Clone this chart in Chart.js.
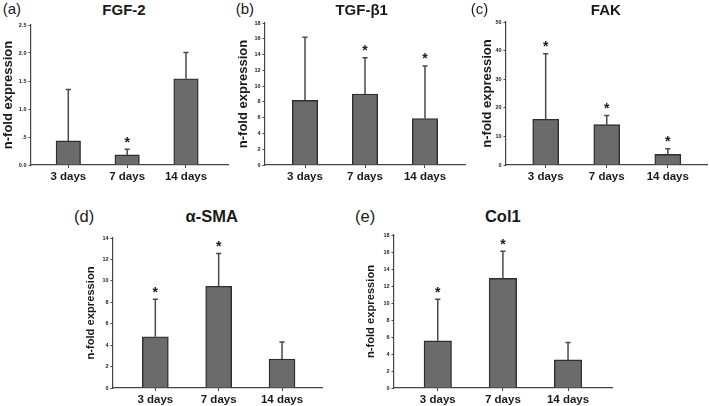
<!DOCTYPE html>
<html>
<head>
<meta charset="utf-8">
<script src="https://cdn.jsdelivr.net/npm/chart.js@4.4.0/dist/chart.umd.min.js"></script>
<style>
  body { margin: 0; background: #fff; }
  #wrap { position: relative; width: 709px; height: 406px; overflow: hidden; font-family: "Liberation Sans", Arial, sans-serif; color: #1a1a1a; }
  canvas { position: absolute; }
  .tag, .ttl { position: absolute; white-space: nowrap; line-height: 1; }
  .ttl { font-weight: bold; transform: translateX(-50%); }
</style>
</head>
<body>
<div id="wrap"></div>
<script>
// data
const days = ['3 days', '7 days', '14 days'];

const fgf2Mean = [0.43, 0.18, 1.54];
const fgf2Sd = [0.92, 0.10, 0.47];
const fgf2Sig = [false, true, false];

const tgfMean = [8.2, 9.0, 5.9];
const tgfSd = [8.0, 4.6, 6.65];
const tgfSig = [false, true, true];

const fakMean = [16.0, 14.1, 3.7];
const fakSd = [22.9, 3.2, 2.0];
const fakSig = [true, true, true];

const smaMean = [4.78, 9.5, 2.7];
const smaSd = [3.5, 3.05, 1.6];
const smaSig = [true, true, false];

const col1Mean = [5.55, 12.9, 3.3];
const col1Sd = [4.9, 3.2, 2.05];
const col1Sig = [true, true, false];

const yMaxes = [2.5, 18, 50, 14, 18];
const ySteps = [0.5, 2, 10, 2, 2];

// panel layout
const panels = [
  { tag: '(a)', title: 'FGF-2', mean: fgf2Mean, sd: fgf2Sd, sig: fgf2Sig,
    box: [1, 19, 229, 168], yw: 30, xr: [0.366, 3.714], bar: 24.5, tf: 13, tagPos: [2.7, 1], ttlPos: [124, 2], ts: 15 },
  { tag: '(b)', title: 'TGF-β1', mean: tgfMean, sd: tgfSd, sig: tgfSig,
    box: [236, 17, 231, 170], yw: 29, xr: [0.333, 3.667], bar: 25.4, tf: 13, tagPos: [235.7, 1], ttlPos: [361.7, 2], ts: 15 },
  { tag: '(c)', title: 'FAK', mean: fakMean, sd: fakSd, sig: fakSig,
    box: [480, 16, 229, 171], yw: 26, xr: [0.35, 3.642], bar: 26, tf: 13, tagPos: [470.7, 1], ttlPos: [605.8, 2], ts: 15 },
  { tag: '(d)', title: 'α-SMA', mean: smaMean, sd: smaSd, sig: smaSig,
    box: [84, 232, 240, 178], yw: 29, xr: [0.332, 3.631], bar: 26, tf: 11.2, tagPos: [74, 207.5], ttlPos: [211.7, 207.5], ts: 16.5 },
  { tag: '(e)', title: 'Col1', mean: col1Mean, sd: col1Sd, sig: col1Sig,
    box: [364, 229, 250, 181], yw: 30, xr: [0.328, 3.675], bar: 27.5, tf: 11.2, tagPos: [355, 207.5], ttlPos: [502.8, 207.5], ts: 16.5 }
];

Chart.defaults.font.family = '"Liberation Sans", Arial, sans-serif';
Chart.defaults.color = '#1a1a1a';

// whiskers and significance stars
const errorBars = {
  id: 'errorBars',
  afterDatasetsDraw(chart, args, opts) {
    const ctx = chart.ctx;
    const x = chart.scales.x, y = chart.scales.y;
    ctx.save();
    ctx.strokeStyle = '#4a4a4a';
    ctx.lineWidth = 1.5;
    ctx.fillStyle = '#1a1a1a';
    ctx.font = 'bold 14px "Liberation Sans", Arial, sans-serif';
    ctx.textAlign = 'center';
    ctx.textBaseline = 'alphabetic';
    opts.mean.forEach((m, i) => {
      const px = x.getPixelForValue(i + 1);
      const top = y.getPixelForValue(m);
      const end = y.getPixelForValue(m + opts.sd[i]);
      ctx.beginPath();
      ctx.moveTo(px, top);
      ctx.lineTo(px, end);
      ctx.moveTo(px - 2.6, end);
      ctx.lineTo(px + 2.6, end);
      ctx.stroke();
      if (opts.sig[i]) ctx.fillText('*', px, end - 2.5);
    });
    ctx.restore();
  }
};

const wrap = document.getElementById('wrap');

panels.forEach((p, k) => {
  const [l, t, w, h] = p.box;
  const cv = document.createElement('canvas');
  cv.width = w; cv.height = h;
  cv.style.left = l + 'px'; cv.style.top = t + 'px';
  wrap.appendChild(cv);

  const tag = document.createElement('div');
  tag.className = 'tag';
  tag.textContent = p.tag;
  tag.style.left = p.tagPos[0] + 'px'; tag.style.top = p.tagPos[1] + 'px';
  tag.style.fontSize = p.ts + 'px';
  wrap.appendChild(tag);

  const ttl = document.createElement('div');
  ttl.className = 'ttl';
  ttl.textContent = p.title;
  ttl.style.left = p.ttlPos[0] + 'px'; ttl.style.top = p.ttlPos[1] + 'px';
  ttl.style.fontSize = p.ts + 'px';
  wrap.appendChild(ttl);

  new Chart(cv, {
    type: 'bar',
    data: {
      datasets: [{
        data: p.mean.map((v, i) => ({ x: i + 1, y: v })),
        backgroundColor: '#6b6b6b',
        borderColor: '#2e2e2e',
        borderWidth: 1.4,
        barThickness: p.bar
      }]
    },
    options: {
      responsive: false,
      animation: false,
      devicePixelRatio: 1,
      layout: { padding: { top: 6, right: 2, left: 0, bottom: 0 } },
      plugins: {
        legend: { display: false },
        tooltip: { enabled: false },
        errorBars: { mean: p.mean, sd: p.sd, sig: p.sig }
      },
      scales: {
        x: {
          type: 'linear',
          offset: false,
          min: p.xr[0], max: p.xr[1],
          afterFit: s => { s.height = 22; },
          afterBuildTicks: s => { s.ticks = s.ticks.filter(tk => Number.isInteger(tk.value) && tk.value >= 1 && tk.value <= 3); },
          ticks: {
            stepSize: 1, includeBounds: false, autoSkip: false, maxRotation: 0, padding: 2,
            font: { size: 11.5, weight: 'bold' },
            callback: v => days[v - 1]
          },
          grid: { offset: false, drawOnChartArea: false, tickLength: 3, color: '#444' },
          border: { color: '#444', width: 1.2 }
        },
        y: {
          min: 0, max: yMaxes[k],
          afterFit: s => { s.width = p.yw; },
          ticks: {
            stepSize: ySteps[k], padding: 2,
            font: { size: 5.5, weight: 'bold' },
            callback: v => k === 0 ? (v === 0.5 ? '.5' : v.toFixed(1)) : v
          },
          grid: { drawOnChartArea: false, tickLength: 2.5, color: '#444' },
          border: { color: '#444', width: 1.2 },
          title: {
            display: true, text: 'n-fold expression', padding: 0,
            font: { size: p.tf, weight: 'bold' }
          }
        }
      }
    },
    plugins: [errorBars]
  });
});
</script>
</body>
</html>
